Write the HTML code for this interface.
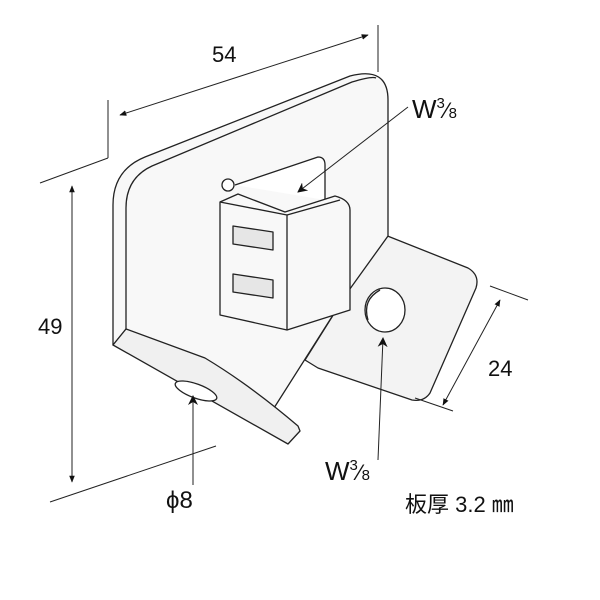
<!DOCTYPE html>
<html><head><meta charset="utf-8"><style>
html,body{margin:0;padding:0;background:#fff;width:600px;height:600px;overflow:hidden}
svg text{font-family:"Liberation Sans","Noto Sans CJK JP",sans-serif;fill:#111}
</style></head><body>
<svg width="600" height="600" viewBox="0 0 600 600" xmlns="http://www.w3.org/2000/svg">
<defs>
<marker id="a" viewBox="0 0 10 10" refX="9" refY="5" markerWidth="7" markerHeight="7" orient="auto-start-reverse"><path d="M0,1 L10,5 L0,9 z" fill="#111"/></marker>
<marker id="b" viewBox="0 0 10 10" refX="9" refY="5" markerWidth="10" markerHeight="10" orient="auto"><path d="M0,0 L10,5 L0,10 L3,5 z" fill="#111"/></marker>
</defs>
<g stroke="#222" stroke-width="1.3" fill="#f6f6f6" stroke-linejoin="round">
<!-- right flange -->
<path d="M385,235 L468,268 Q480,275 476,288 L430,393 Q424,402 412,400 L318,368 L305,360 L347,293 Z" fill="#f3f3f3"/>
<!-- main plate -->
<path d="M113,345 L113,205 Q113,170 145,157 L350,76 Q388,66 388,100 L388,236 L347,293 L274,408 L126,329 Z" fill="#f8f8f8"/>
<path d="M126,329 L126,208 Q126,178 152,166 L352,82 Q372,76 376,78" fill="none"/>
<!-- left flange -->
<path d="M113,345 L126,329 L205,358 Q250,385 298,426 L300,431 L288,444 Z" fill="#f0f0f0"/>
<ellipse cx="196" cy="391" rx="22" ry="7" fill="#fff" transform="rotate(20 196 391)"/>
<!-- slot in plate -->
<path d="M235,185 L318,157 Q325,157 325,165 L325,200" fill="#fff"/>
<circle cx="228" cy="185" r="6" fill="#fff"/>
<circle cx="228" cy="305" r="6" fill="#fff"/>
<!-- clip -->
<path d="M220,202 L238,194 L285,212 L335,196 Q350,200 350,210 L350,310 L287,330 L220,315 Z" fill="#f8f8f8"/>
<path d="M220,202 L287,215 L287,330" fill="none"/>
<path d="M287,215 L340,200" fill="none"/>
<path d="M233,226 L273,232 L273,250 L233,244 Z" fill="#e6e6e6"/>
<path d="M233,274 L273,280 L273,298 L233,292 Z" fill="#e6e6e6"/>
<!-- holes -->
<ellipse cx="385" cy="310" rx="20" ry="22" fill="#fff"/>
<path d="M368,320 Q362,300 380,290" fill="none"/>
</g>
<g stroke="#222" stroke-width="1" fill="none">
<line x1="120" y1="115" x2="368" y2="35" marker-start="url(#a)" marker-end="url(#a)"/>
<line x1="108" y1="100" x2="108" y2="158"/><line x1="108" y1="158" x2="40" y2="183"/>
<line x1="378" y1="25" x2="378" y2="72"/>
<line x1="72" y1="186" x2="72" y2="482" marker-start="url(#a)" marker-end="url(#a)"/>
<line x1="50" y1="502" x2="216" y2="446"/>
<line x1="500" y1="300" x2="443" y2="405" marker-start="url(#a)" marker-end="url(#a)"/>
<line x1="490" y1="286" x2="528" y2="300"/>
<line x1="415" y1="398" x2="453" y2="411"/>
<line x1="408" y1="107" x2="298" y2="192" marker-end="url(#b)"/>
<line x1="378" y1="460" x2="383" y2="338" marker-end="url(#b)"/>
<line x1="193" y1="485" x2="193" y2="396" marker-end="url(#b)"/>
</g>
<text x="212" y="62" font-size="22">54</text>
<text x="38" y="334" font-size="22">49</text>
<text x="488" y="376" font-size="22">24</text>
<text x="412" y="118" font-size="26">W<tspan font-size="15" dy="-10">3</tspan><tspan font-size="22" dy="10">⁄</tspan><tspan font-size="15">8</tspan></text>
<text x="325" y="480" font-size="26">W<tspan font-size="15" dy="-10">3</tspan><tspan font-size="22" dy="10">⁄</tspan><tspan font-size="15">8</tspan></text>
<text x="166" y="508" font-size="24">ϕ8</text>
<text x="405" y="512" font-size="22">板厚 3.2 ㎜</text>
</svg>
</body></html>
